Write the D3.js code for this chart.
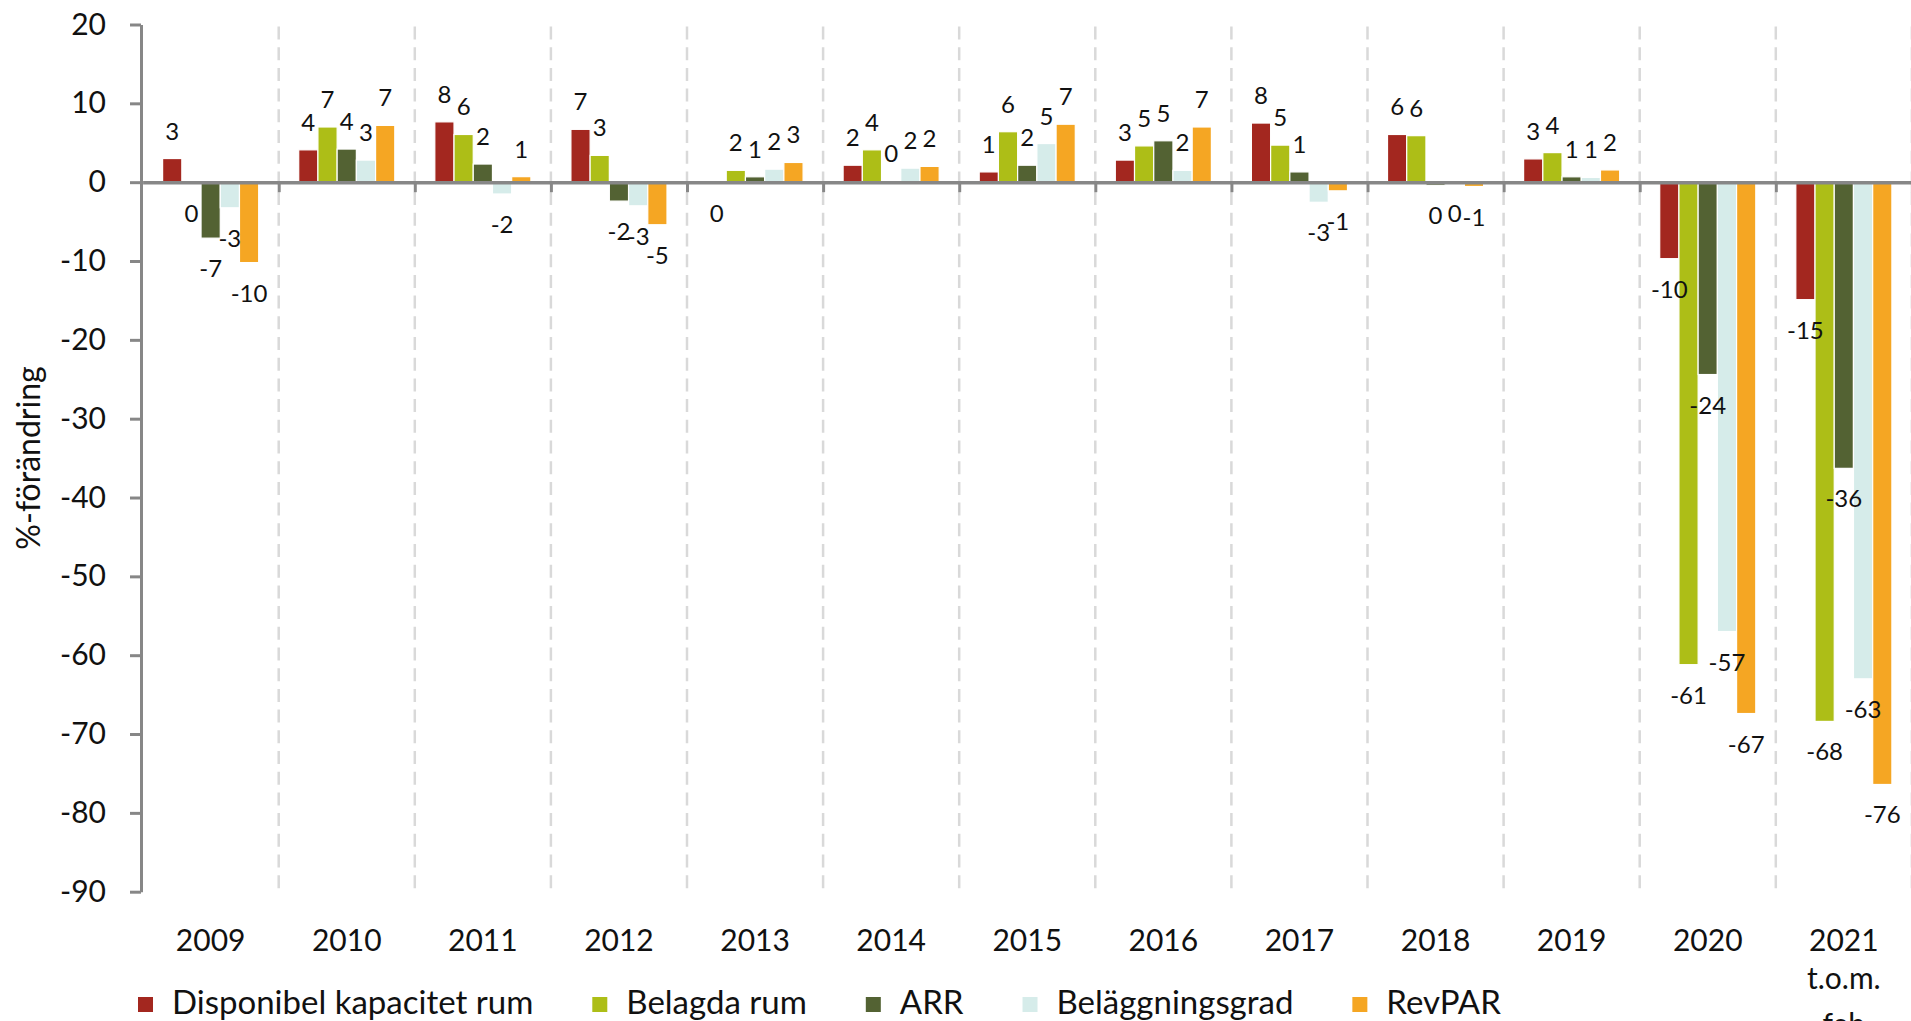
<!DOCTYPE html>
<html><head><meta charset="utf-8">
<script src="https://cdn.jsdelivr.net/npm/d3@7"></script>
<style>html,body{margin:0;padding:0;background:#fff;overflow:hidden} svg{display:block}</style>
</head><body><svg id="chart" width="1911" height="1021"></svg>
<script>
// ---------- data ----------
const categories = ["2009","2010","2011","2012","2013","2014","2015","2016","2017","2018","2019","2020","2021\nt.o.m.\nfeb"];
const seriesNames = ["Disponibel kapacitet rum","Belagda rum","ARR","Beläggningsgrad","RevPAR"];
const dispKapacitet  = [3.0, 4.1, 7.65, 6.7, -0.05, 2.15, 1.3, 2.8, 7.5, 6.05, 2.95, -9.7, -14.9];
const belagdaRum     = [-0.15, 7.0, 6.05, 3.4, 1.5, 4.1, 6.4, 4.6, 4.7, 5.9, 3.75, -61.2, -68.4];
const arr            = [-7.1, 4.2, 2.3, -2.4, 0.68, 0.1, 2.15, 5.25, 1.3, -0.4, 0.68, -24.4, -36.3];
const belaggningsgrad= [-3.25, 2.8, -1.5, -3.0, 1.65, 1.78, 4.9, 1.5, -2.55, -0.1, 0.6, -57.0, -63.0];
const revpar         = [-10.2, 7.2, 0.7, -5.4, 2.5, 2.0, 7.35, 7.0, -1.1, -0.55, 1.55, -67.4, -76.4];
const yTickValues    = [20, 10, 0, -10, -20, -30, -40, -50, -60, -70, -80, -90];
const yTitle = "%-förändring";

const seriesValues = [dispKapacitet, belagdaRum, arr, belaggningsgrad, revpar];
const colors = ["#A3271F", "#ADBE17", "#536233", "#D6ECEA", "#F5A623"];

// ---------- layout ----------
const W = 1911, H = 1021;
const plotLeft = 142.6, plotRight = 1911.9, plotTop = 24.5, plotBottom = 891.7;
const fontFam = "Lato, 'Open Sans', sans-serif";
const axisColor = "#878787";

const svg = d3.select("#chart");

const y = d3.scaleLinear().domain([-90, 20]).range([plotBottom, plotTop]);
const x0 = d3.scaleBand().domain(categories).range([plotLeft, plotRight]).padding(0);
const bw = x0.bandwidth();
const x1 = d3.scaleBand().domain(seriesNames).range([bw * 0.147, bw * 0.853]).padding(0);
const xBound = d3.scaleLinear().domain([0, categories.length]).range([plotLeft, plotRight]);

// dashed category dividers
svg.append("g").selectAll("line")
  .data(d3.range(1, categories.length + 1))
  .join("line")
  .attr("x1", d => xBound(d)).attr("x2", d => xBound(d))
  .attr("y1", y(20) + 2).attr("y2", y(-90))
  .attr("stroke", "#D9D9D9").attr("stroke-width", 2.5)
  .attr("stroke-dasharray", "13,7.7");

// bars
const rows = [];
categories.forEach((c, i) => {
  seriesNames.forEach((s, j) => rows.push({cat: c, ser: s, j, v: seriesValues[j][i]}));
});

svg.append("g").selectAll("rect")
  .data(rows)
  .join("rect")
  .attr("x", d => x0(d.cat) + x1(d.ser))
  .attr("width", x1.bandwidth())
  .attr("y", d => y(Math.max(0, d.v)))
  .attr("height", d => Math.abs(y(d.v) - y(0)))
  .attr("fill", d => colors[d.j])
  .attr("stroke", "#fff").attr("stroke-width", 1.2);

// data labels
const fmt = v => { const r = Math.sign(v) * Math.round(Math.abs(v)); return r === 0 ? "0" : String(r); };
svg.append("g").selectAll("text")
  .data(rows)
  .join("text")
  .attr("x", d => x0(d.cat) + x1(d.ser) + x1.bandwidth() / 2)
  .attr("y", d => d.v >= 0 ? y(d.v) - 19 : y(d.v) + 39)
  .attr("text-anchor", "middle")
  .attr("font-family", fontFam).attr("font-size", 24).attr("fill", "#111")
  .text(d => fmt(d.v));

// y axis
const yAxis = d3.axisLeft(y).tickValues(yTickValues).tickSize(11).tickSizeOuter(0)
  .tickPadding(24).tickFormat(d => String(d));
const gy = svg.append("g").attr("transform", `translate(${plotLeft - 1.6},0)`).call(yAxis);
gy.select(".domain").attr("stroke", axisColor).attr("stroke-width", 3);
gy.selectAll(".tick line").attr("stroke", axisColor).attr("stroke-width", 3);
gy.selectAll(".tick text").attr("font-family", fontFam).attr("font-size", 30).attr("fill", "#111");

// x axis (zero line) with boundary ticks
const xAxis = d3.axisBottom(xBound).tickValues(d3.range(1, categories.length + 1))
  .tickSize(10).tickSizeOuter(0).tickFormat("");
const gx = svg.append("g").attr("transform", `translate(0,${y(0)})`).call(xAxis);
gx.select(".domain").attr("stroke", axisColor).attr("stroke-width", 3.5);
gx.selectAll(".tick line").attr("stroke", axisColor).attr("stroke-width", 3);

// category labels
const catG = svg.append("g");
categories.forEach(c => {
  const lines = c.split("\n");
  const t = catG.append("text")
    .attr("x", x0(c) + bw / 2).attr("y", 951)
    .attr("text-anchor", "middle")
    .attr("font-family", fontFam).attr("font-size", 30).attr("fill", "#111");
  lines.forEach((ln, k) => {
    t.append("tspan").attr("x", x0(c) + bw / 2)
      .attr("dy", k === 0 ? 0 : (k === 1 ? 38 : 46)).text(ln);
  });
});

// y title
svg.append("text")
  .attr("transform", "translate(40,458) rotate(-90)")
  .attr("text-anchor", "middle")
  .attr("font-family", fontFam).attr("font-size", 32).attr("fill", "#111")
  .text(yTitle);

// legend
const leg = svg.append("g");
let lx = 138;
seriesNames.forEach((s, j) => {
  leg.append("rect").attr("x", lx).attr("y", 997).attr("width", 15).attr("height", 15)
    .attr("fill", colors[j]);
  const t = leg.append("text").attr("x", lx + 34).attr("y", 1014)
    .attr("font-family", fontFam).attr("font-size", 33).attr("fill", "#111").text(s);
  lx = lx + 34 + t.node().getComputedTextLength() + 59;
});
</script>
</body></html>
